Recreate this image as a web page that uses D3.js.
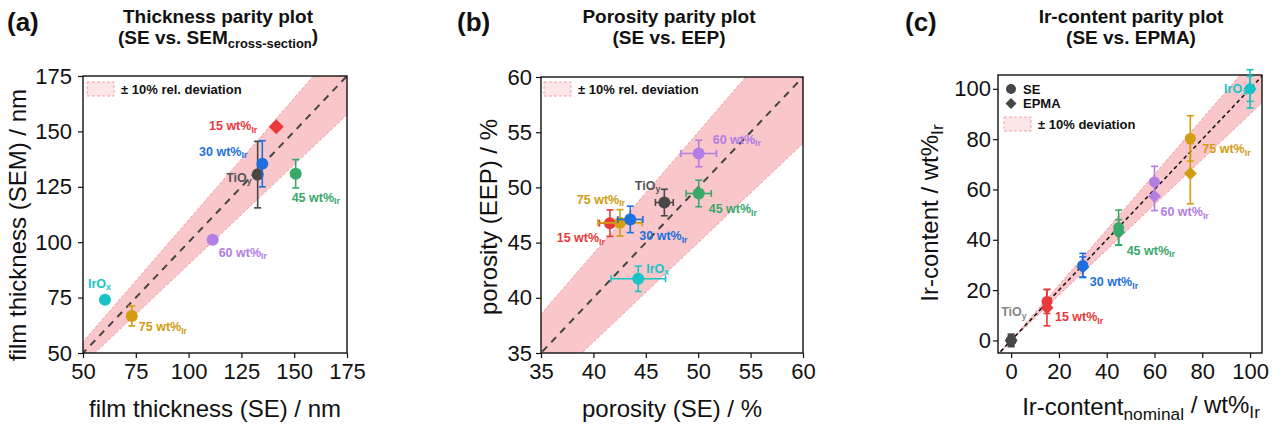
<!DOCTYPE html>
<html>
<head>
<meta charset="utf-8">
<title>Parity plots</title>
<script src="https://d3js.org/d3.v7.min.js"></script>
<style>
    body { margin: 0; background: #fff; }
    svg { font-family: 'Liberation Sans', Arial, sans-serif; }
    .tick text { font-size: 22px; fill: #111; }
    .tick line { stroke: #111; stroke-width: 1.2px; }
    .frame { fill: none; stroke: #111; stroke-width: 1.4px; }
    .lbl { font-weight: bold; font-size: 12.5px; }
    .axis-title { font-size: 24px; fill: #111; }
    .title { font-size: 19px; font-weight: bold; text-anchor: middle; fill: #111; }
    .panel { font-size: 26px; font-weight: bold; fill: #111; }
    .leg { font-size: 13px; font-weight: bold; fill: #111; }
</style>
</head>
<body>
<svg id="fig" width="1279" height="428"></svg>
<script>
// sample order: TiOy, 15, 30, 45, 60, 75 wt% Ir, IrOx
const sampleNames = ['TiO', '15 wt%', '30 wt%', '45 wt%', '60 wt%', '75 wt%', 'IrO'];
const sampleSubs = ['y', 'Ir', 'Ir', 'Ir', 'Ir', 'Ir', 'x'];
const sampleColors = ['#474747', '#e8393b', '#1d6fe0', '#3aa86b', '#b27ee4', '#d29d10', '#18c4c8'];

// (a) thickness, nm
const thickSE = [132.7, 141.5, 134.9, 150.7, 111.4, 73.1, 60.4];
const thickSEErr = [0.6, 0, 0.8, 2.0, 2.0, 2.0, 1.5];
const thickSEM = [130.5, 152.1, 135.4, 130.9, 101.1, 66.7, 74.0];
const thickSEMErr = [15.0, 0, 10.4, 6.4, 1.3, 4.5, 1.0];

// (b) porosity, %
const poroSE = [46.77, 41.58, 43.52, 50.05, 50.05, 42.54, 44.28];
const poroSEErr = [0.85, 1.0, 1.2, 1.2, 1.7, 2.1, 2.6];
const poroEEP = [48.63, 46.76, 47.1, 49.45, 53.07, 46.79, 41.72];
const poroEEPErr = [1.2, 1.2, 1.2, 1.2, 1.2, 1.2, 1.15];

// (c) Ir content, wt%
const irNominal = [0, 15, 30, 45, 60, 75, 100];
const irSE = [0, 15.5, 29.8, 44.8, 63.0, 80.3, 100];
const irSEErr = [2.5, 4.8, 4.8, 7.0, 6.2, 9.0, 7.6];
const irEPMA = [0, 13.0, 29.2, 43.0, 57.3, 66.3, 100];
const irEPMAErr = [2.0, 7.2, 4.0, 5.0, 5.7, 12.0, 5.0];

const svg = d3.select('#fig');

function richText(g, parts, x, y, cls, anchor) {
    // parts: [[text, isSub], ...]
    const t = g.append('text').attr('x', x).attr('y', y).attr('class', cls)
        .attr('text-anchor', anchor || 'start');
    let shifted = false;
    parts.forEach(p => {
        const ts = t.append('tspan').text(p[0]);
        if (p[1] && !shifted) { ts.attr('dy', p[2] || '0.3em').style('font-size', p[3] || '0.7em'); shifted = true; }
        else if (!p[1] && shifted) { ts.attr('dy', '-' + (p[2] || '0.3em')); shifted = false; }
    });
    return t;
}

function diamond(g, cx, cy, h, color) {
    g.append('path')
        .attr('d', d3.symbol(d3.symbolSquare, 2 * h * h)())
        .attr('transform', `translate(${cx},${cy}) rotate(45)`)
        .attr('fill', color);
}

function errBars(g, px, py, x0, x1, y0, y1, color) {
    const cap = 3.5;
    if (y1 - y0 > 1) {
        g.append('line').attr('x1', px).attr('x2', px).attr('y1', y0).attr('y2', y1)
            .attr('stroke', color).attr('stroke-width', 1.6);
        [y0, y1].forEach(v => g.append('line').attr('x1', px - cap).attr('x2', px + cap)
            .attr('y1', v).attr('y2', v).attr('stroke', color).attr('stroke-width', 1.6));
    }
    if (x1 - x0 > 1) {
        g.append('line').attr('y1', py).attr('y2', py).attr('x1', x0).attr('x2', x1)
            .attr('stroke', color).attr('stroke-width', 1.6);
        [x0, x1].forEach(v => g.append('line').attr('y1', py - cap).attr('y2', py + cap)
            .attr('x1', v).attr('x2', v).attr('stroke', color).attr('stroke-width', 1.6));
    }
}

function drawPanel(o) {
    const g = svg.append('g');
    const x = d3.scaleLinear().domain(o.xDomain).range([o.left, o.right]);
    const y = d3.scaleLinear().domain(o.yDomain).range([o.bottom, o.top]);

    g.append('clipPath').attr('id', o.id + '-clip').append('rect')
        .attr('x', o.left).attr('y', o.top)
        .attr('width', o.right - o.left).attr('height', o.bottom - o.top);
    const plot = g.append('g').attr('clip-path', `url(#${o.id}-clip)`);

    // +-10 % band and parity line
    const ends = [o.xDomain[0] - 5, o.xDomain[1] + 5];
    plot.append('path').datum(ends)
        .attr('d', d3.area().x(d => x(d)).y0(d => y(0.9 * d)).y1(d => y(1.1 * d)))
        .attr('fill', '#f9c7c9');
    [0.9, 1.1].forEach(f => plot.append('path').datum(ends)
        .attr('d', d3.line().x(d => x(d)).y(d => y(f * d)))
        .attr('fill', 'none').attr('stroke', '#f29aa0').attr('stroke-width', 1)
        .attr('stroke-dasharray', '3,2'));
    plot.append('path').datum(ends)
        .attr('d', d3.line().x(d => x(d)).y(d => y(d)))
        .attr('fill', 'none').attr('stroke', o.lineColor).attr('stroke-width', o.lineWidth)
        .attr('stroke-dasharray', o.dash);

    // axes
    const xa = g.append('g').attr('transform', `translate(0,${o.bottom})`);
    xa.call(d3.axisBottom(x).tickValues(o.minor).tickSize(3).tickFormat(''));
    xa.call(d3.axisBottom(x).tickValues(o.ticks).tickSize(5).tickPadding(5).tickSizeOuter(0));
    const ya = g.append('g').attr('transform', `translate(${o.left},0)`);
    ya.call(d3.axisLeft(y).tickValues(o.minor).tickSize(3).tickFormat(''));
    ya.call(d3.axisLeft(y).tickValues(o.ticks).tickSize(5).tickPadding(o.yPad).tickSizeOuter(0));
    g.selectAll('.domain').remove();
    g.append('rect').attr('class', 'frame')
        .attr('x', o.left).attr('y', o.top)
        .attr('width', o.right - o.left).attr('height', o.bottom - o.top);

    return {g, x, y, plot};
}

function legendBand(g, bx, by, text) {
    g.append('rect').attr('x', bx).attr('y', by).attr('width', 27).attr('height', 14)
        .attr('fill', '#fde6e7').attr('stroke', '#f4a3a8').attr('stroke-dasharray', '3,2');
    g.append('text').attr('class', 'leg').attr('x', bx + 34).attr('y', by + 11.5).text(text);
}

function titles(cx, lx, line1, line2parts) {
    svg.append('text').attr('class', 'panel').attr('x', lx).attr('y', 31).text(line1[0]);
    svg.append('text').attr('class', 'title').attr('x', cx).attr('y', 23).text(line1[1]);
    richText(svg, line2parts, cx, 44, 'title', 'middle');
}

// ---------- (a) ----------
const A = drawPanel({id: 'a', left: 83, right: 347, top: 76, bottom: 353,
    xDomain: [50, 175], yDomain: [50, 175],
    ticks: [50, 75, 100, 125, 150, 175], minor: d3.range(62.5, 175, 25),
    yPad: 6, lineColor: '#444', lineWidth: 2, dash: '7,6'});
const labelA = [[-6, 7, 'end'], [-19, 3.5, 'end'], [-15, -8, 'end'], [-4, 28, 'start'],
    [6, 17, 'start'], [7, 15, 'start'], [-17, -12, 'start']];
thickSE.forEach((v, i) => {
    const px = A.x(v), py = A.y(thickSEM[i]), c = sampleColors[i];
    errBars(A.g, px, py, A.x(v - thickSEErr[i]), A.x(v + thickSEErr[i]),
        A.y(thickSEM[i] + thickSEMErr[i]), A.y(thickSEM[i] - thickSEMErr[i]), c);
    if (i === 1) diamond(A.g, px, py, 7.5, c);
    else A.g.append('circle').attr('cx', px).attr('cy', py).attr('r', 6).attr('fill', c);
    const L = labelA[i];
    richText(A.g, [[sampleNames[i]], [sampleSubs[i], true]], px + L[0], py + L[1], 'lbl', L[2])
        .attr('fill', i === 0 ? '#555' : c);
});
legendBand(A.g, 87, 82, '± 10% rel. deviation');
titles(218, 7, ['(a)', 'Thickness parity plot'],
    [['(SE vs. SEM'], ['cross-section', true, '0.3em', '0.68em'], [')']]);
A.g.append('text').attr('class', 'axis-title').attr('text-anchor', 'middle')
    .attr('x', 215).attr('y', 417).text('film thickness (SE) / nm');
A.g.append('text').attr('class', 'axis-title').attr('text-anchor', 'middle')
    .attr('transform', 'translate(26,225) rotate(-90)').text('film thickness (SEM) / nm');

// ---------- (b) ----------
const B = drawPanel({id: 'b', left: 541, right: 803, top: 77, bottom: 353,
    xDomain: [35, 60], yDomain: [35, 60],
    ticks: [35, 40, 45, 50, 55, 60], minor: d3.range(37.5, 60, 5),
    yPad: 4, lineColor: '#444', lineWidth: 2, dash: '7,6'});
const labelB = [[-4, -13, 'end'], [-5, 19, 'end'], [9, 21, 'start'], [10, 20, 'start'],
    [14, -10, 'start'], [5, -19, 'end'], [8, -6, 'start']];
const orderB = [1, 5, 2, 0, 3, 4, 6];
orderB.forEach(i => {
    const v = poroSE[i], px = B.x(v), py = B.y(poroEEP[i]), c = sampleColors[i];
    errBars(B.g, px, py, B.x(v - poroSEErr[i]), B.x(v + poroSEErr[i]),
        B.y(poroEEP[i] + poroEEPErr[i]), B.y(poroEEP[i] - poroEEPErr[i]), c);
    B.g.append('circle').attr('cx', px).attr('cy', py).attr('r', 6).attr('fill', c);
});
poroSE.forEach((v, i) => {
    const L = labelB[i];
    richText(B.g, [[sampleNames[i]], [sampleSubs[i], true]], B.x(v) + L[0], B.y(poroEEP[i]) + L[1], 'lbl', L[2])
        .attr('fill', i === 0 ? '#555' : sampleColors[i]);
});
legendBand(B.g, 544, 82, '± 10% rel. deviation');
titles(669, 457, ['(b)', 'Porosity parity plot'], [['(SE vs. EEP)']]);
B.g.append('text').attr('class', 'axis-title').attr('text-anchor', 'middle')
    .attr('x', 672).attr('y', 417).text('porosity (SE) / %');
B.g.append('text').attr('class', 'axis-title').attr('text-anchor', 'middle')
    .attr('transform', 'translate(497,217) rotate(-90)').text('porosity (EEP) / %');

// ---------- (c) ----------
const C = drawPanel({id: 'c', left: 998, right: 1262, top: 75, bottom: 353,
    xDomain: [-5.5, 105], yDomain: [-5, 105.5],
    ticks: [0, 20, 40, 60, 80, 100], minor: d3.range(10, 100, 20),
    yPad: 2, lineColor: '#111', lineWidth: 1.5, dash: '4,3'});
const labelC = [[-10, -24, 'start'], [8, 20, 'start'], [7, 21, 'start'], [8, 27, 'start'],
    [6, 34, 'start'], [12, 15, 'start'], [-3, 4, 'end']];
irNominal.forEach((v, i) => {
    const px = C.x(v), c = sampleColors[i];
    errBars(C.g, px, 0, 0, 0, C.y(irSE[i] + irSEErr[i]), C.y(irSE[i] - irSEErr[i]), c);
    errBars(C.g, px, 0, 0, 0, C.y(irEPMA[i] + irEPMAErr[i]), C.y(irEPMA[i] - irEPMAErr[i]), c);
});
irNominal.forEach((v, i) => {
    C.g.append('circle').attr('cx', C.x(v)).attr('cy', C.y(irSE[i])).attr('r', 5.5).attr('fill', sampleColors[i]);
});
irNominal.forEach((v, i) => {
    diamond(C.g, C.x(v), C.y(irEPMA[i]), 6.5, sampleColors[i]);
    const L = labelC[i];
    richText(C.g, [[sampleNames[i]], [sampleSubs[i], true]], C.x(v) + L[0], C.y(irSE[i]) + L[1], 'lbl', L[2])
        .attr('fill', i === 0 ? '#858585' : sampleColors[i]);
});
C.g.append('circle').attr('cx', 1011).attr('cy', 89).attr('r', 5).attr('fill', '#474747');
C.g.append('text').attr('class', 'leg').attr('x', 1023).attr('y', 93.5).text('SE');
diamond(C.g, 1011, 103.5, 5.5, '#474747');
C.g.append('text').attr('class', 'leg').attr('x', 1023).attr('y', 108).text('EPMA');
legendBand(C.g, 1004, 117, '± 10% deviation');
titles(1131, 905, ['(c)', 'Ir-content parity plot'], [['(SE vs. EPMA)']]);
richText(C.g, [['Ir-content'], ['nominal', true, '0.3em', '0.72em'], [' / wt%'], ['Ir', true, '0.3em', '0.72em']],
    1141, 415, 'axis-title', 'middle');
richText(C.g, [['Ir-content / wt%'], ['Ir', true, '0.3em', '0.72em']], 0, 0, 'axis-title', 'middle')
    .attr('transform', 'translate(938,213) rotate(-90)');
</script>
</body>
</html>
